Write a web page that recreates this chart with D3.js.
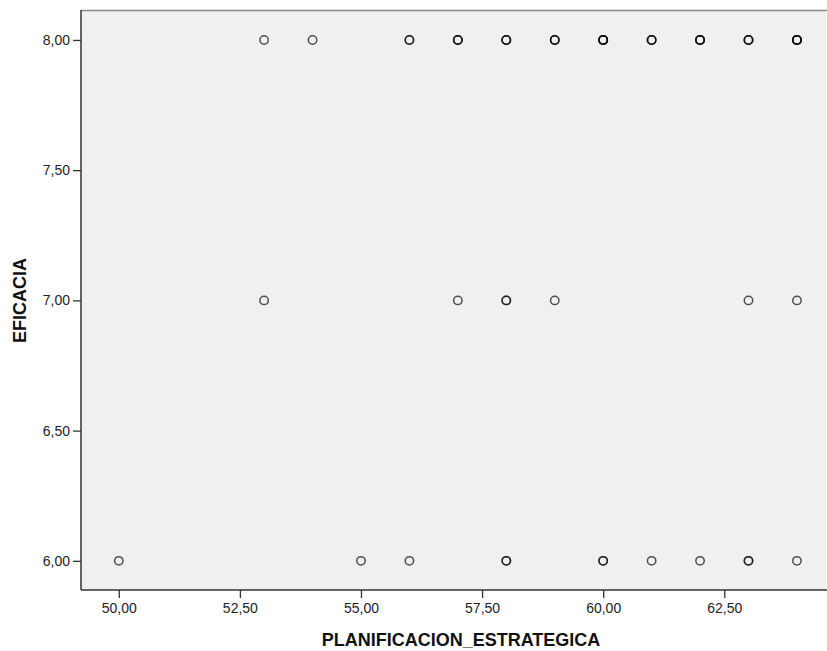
<!DOCTYPE html>
<html>
<head>
<meta charset="utf-8">
<script src="https://cdn.jsdelivr.net/npm/d3@7"></script>
<style>
  body { margin: 0; background: #fff; }
  svg { display: block; font-family: "Liberation Sans", Arial, sans-serif; }
</style>
</head>
<body>
<div id="chart"></div>
<script>
// cases grouped by EFICACIA level; repeated values = overlapping cases
const plan8 = [53, 54, 56, 56, 57, 57, 57, 58, 58, 58, 59, 59, 59, 60, 60, 60, 60, 60,
  61, 61, 61, 62, 62, 62, 62, 63, 63, 63, 64, 64, 64, 64, 64];
const plan7 = [53, 57, 58, 58, 59, 63, 64];
const plan6 = [50, 55, 56, 58, 58, 60, 60, 61, 62, 63, 63, 64];
const xTicks = [50, 52.5, 55, 57.5, 60, 62.5];
const yTicks = [6, 6.5, 7, 7.5, 8];

const width = 827;
const height = 651;
const margin = { top: 10, right: 1, bottom: 61, left: 81 };

const points = [];
plan8.forEach((p) => points.push({ x: p, y: 8 }));
plan7.forEach((p) => points.push({ x: p, y: 7 }));
plan6.forEach((p) => points.push({ x: p, y: 6 }));

const svg = d3
  .select("#chart")
  .append("svg")
  .attr("width", width)
  .attr("height", height);

const x = d3
  .scaleLinear()
  .domain([49.22, 64.6])
  .range([margin.left, width - margin.right]);

const y = d3
  .scaleLinear()
  .domain([5.888, 8.115])
  .range([height - margin.bottom, margin.top]);

const fmt = (d) => d3.format(".2f")(d).replace(".", ",");

// panel
svg
  .append("rect")
  .attr("x", margin.left)
  .attr("y", margin.top)
  .attr("width", width - margin.right - margin.left)
  .attr("height", height - margin.bottom - margin.top)
  .attr("fill", "#f0f0f0");

svg
  .append("line")
  .attr("x1", margin.left)
  .attr("x2", width)
  .attr("y1", margin.top + 0.5)
  .attr("y2", margin.top + 0.5)
  .attr("stroke", "#8a8a8a")
  .attr("stroke-width", 1.5);

// points
svg
  .append("g")
  .selectAll("circle")
  .data(points)
  .join("circle")
  .attr("cx", (d) => x(d.x))
  .attr("cy", (d) => y(d.y))
  .attr("r", 4.2)
  .attr("fill", "none")
  .attr("stroke", "#111")
  .attr("stroke-opacity", 0.72)
  .attr("stroke-width", 1.5);

// axes
const xAxis = svg
  .append("g")
  .attr("transform", `translate(0, ${height - margin.bottom})`)
  .call(d3.axisBottom(x).tickValues(xTicks).tickFormat(fmt).tickSize(8).tickPadding(5));

const yAxis = svg
  .append("g")
  .attr("transform", `translate(${margin.left}, 0)`)
  .call(d3.axisLeft(y).tickValues(yTicks).tickFormat(fmt).tickSize(8).tickPadding(3));

[xAxis, yAxis].forEach((g) => {
  g.select(".domain").attr("stroke", "#333").attr("stroke-width", 1.5);
  g.selectAll(".tick line").attr("stroke", "#333").attr("stroke-width", 1.3);
  g.selectAll(".tick text")
    .attr("fill", "#222")
    .attr("font-size", 14)
    .attr("font-family", "Liberation Sans, Arial, sans-serif");
});
xAxis.select(".domain").attr("d", `M${margin.left},0H${width}`);
yAxis.select(".domain").attr("d", `M0,${margin.top}V${height - margin.bottom}`);

// titles
svg
  .append("text")
  .attr("x", 461)
  .attr("y", 646)
  .attr("text-anchor", "middle")
  .attr("font-size", 18)
  .attr("font-weight", "bold")
  .attr("fill", "#111")
  .text("PLANIFICACION_ESTRATEGICA");

svg
  .append("text")
  .attr("transform", `translate(26, ${y(7)}) rotate(-90)`)
  .attr("text-anchor", "middle")
  .attr("font-size", 18)
  .attr("font-weight", "bold")
  .attr("fill", "#111")
  .text("EFICACIA");
</script>
</body>
</html>
